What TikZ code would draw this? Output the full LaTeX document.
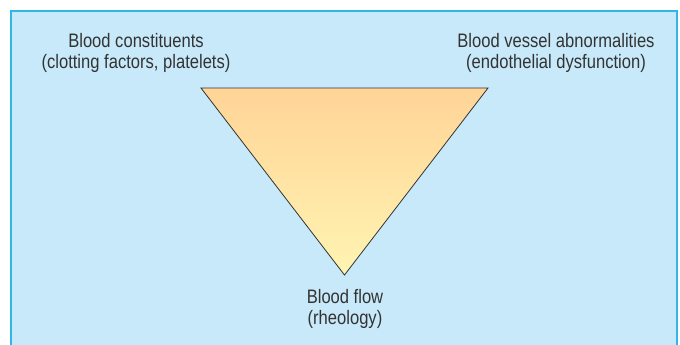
\documentclass[tikz,border=0pt]{standalone}
\usepackage{fontspec}
\setmainfont[FakeStretch=0.85]{Liberation Sans}
\definecolor{panelblue}{HTML}{C7E9F9}
\definecolor{edgeblue}{HTML}{33B5E8}
\definecolor{toporange}{HTML}{FFD497}
\definecolor{lowyellow}{HTML}{FFF4B2}
\definecolor{inkgray}{HTML}{333333}
\tikzset{
  factor/.style={align=center, text=inkgray, font=\fontsize{19.5}{21.5}\selectfont, inner sep=0pt}
}
\begin{document}
\begin{tikzpicture}[x=1pt,y=-1pt]
  \useasboundingbox (0,0) rectangle (680,345);
  % panel: open at the bottom
  \fill[panelblue] (11,11) rectangle (677,345);
  \draw[edgeblue, line width=1.5pt] (11,345) -- (11,11) -- (677,11) -- (677,345);
  % corners of the triad
  \coordinate (tl) at (201,88);
  \coordinate (tr) at (488,88);
  \coordinate (bot) at (344.5,275);
  \shade[top color=toporange, bottom color=lowyellow] (tl) -- (tr) -- (bot) -- cycle;
  \draw[inkgray, line width=0.8pt, line join=miter] (tl) -- (tr) -- (bot) -- cycle;
  % labels
  \node[factor] (constit) at (136,53) {Blood constituents\\(clotting factors, platelets)};
  \node[factor] (vessel) at (556,53) {Blood vessel abnormalities\\(endothelial dysfunction)};
  \node[factor] (flow) at (345,309) {Blood flow\\(rheology)};
\end{tikzpicture}
\end{document}
